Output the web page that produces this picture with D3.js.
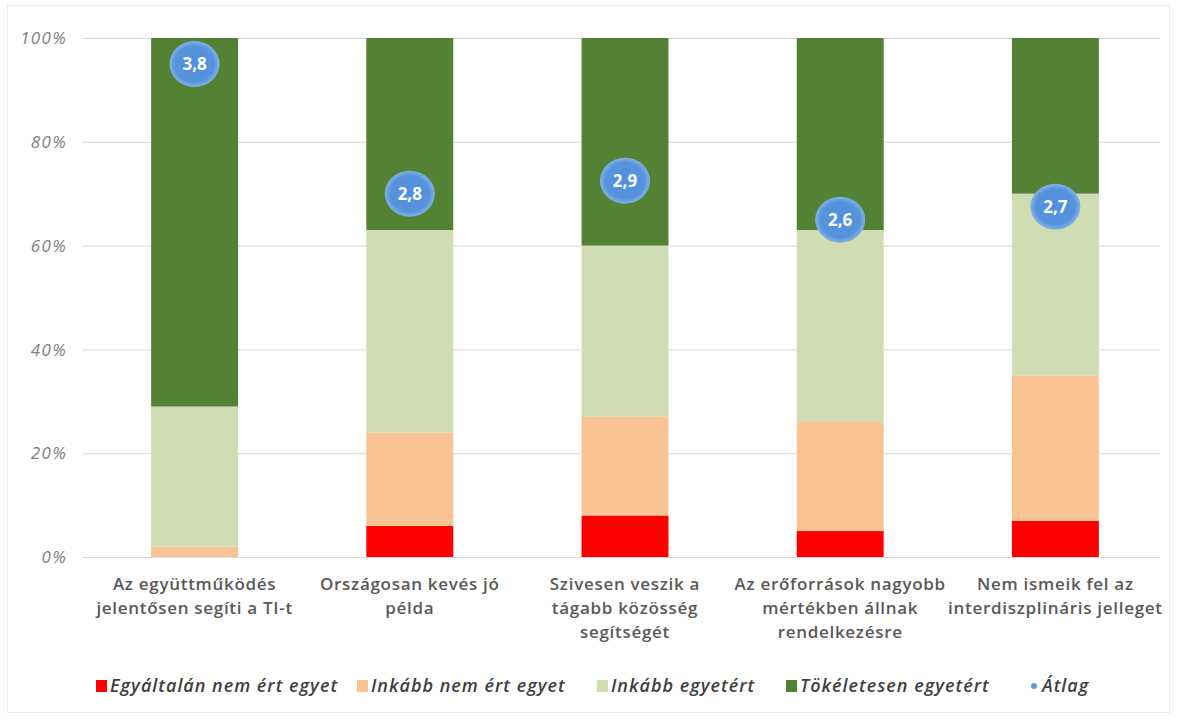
<!DOCTYPE html>
<html>
<head>
<meta charset="utf-8">
<script src="https://cdn.jsdelivr.net/npm/d3@7"></script>
<style>
  html, body { margin: 0; padding: 0; background: #fff; }
  svg { display: block; }
</style>
</head>
<body>
<svg id="chart" width="1177" height="720"></svg>
<script>
const categories = [
  "Az együttműködés jelentősen segíti a TI-t",
  "Országosan kevés jó példa",
  "Szivesen veszik a tágabb közösség segítségét",
  "Az erőforrások nagyobb mértékben állnak rendelkezésre",
  "Nem ismeik fel az interdiszplináris jelleget"
];
const categoryLines = [
  ["Az együttműködés", "jelentősen segíti a TI-t"],
  ["Országosan kevés jó", "példa"],
  ["Szivesen veszik a", "tágabb közösség", "segítségét"],
  ["Az erőforrások nagyobb", "mértékben állnak", "rendelkezésre"],
  ["Nem ismeik fel az", "interdiszplináris jelleget"]
];
const seriesNames = ["Egyáltalán nem ért egyet", "Inkább nem ért egyet", "Inkább egyetért", "Tökéletesen egyetért"];
const notAtAll   = [0, 6, 8, 5, 7];
const ratherNot  = [2, 18, 19, 21, 28];
const ratherYes  = [27, 39, 33, 37, 35];
const fully      = [71, 37, 40, 37, 30];
const averages   = [3.8, 2.8, 2.9, 2.6, 2.7];
const averageName = "Átlag";
const yTicks = [0, 0.2, 0.4, 0.6, 0.8, 1.0];

const colors = ["#ff0000", "#fac393", "#d0dcb2", "#548235"];
const avgColor = "#5b9bd5";

const svg = d3.select("#chart");

// faint outer border
svg.append("rect").attr("x", 7.5).attr("y", 5.5).attr("width", 1162).attr("height", 707)
  .attr("fill", "none").attr("stroke", "#ececec");

const x = d3.scaleBand().domain(categories).range([87, 1163]).paddingInner(0.596).paddingOuter(0.298);
const y = d3.scaleLinear().domain([0, 1]).range([557, 38]);
const y2 = d3.scaleLinear().domain([0, 4]).range([557, 38]);

// gridlines + tick labels
const yAxis = d3.axisLeft(y).tickValues(yTicks).tickSize(-(1160 - 82)).tickFormat(d3.format(".0%")).tickPadding(15);
const gAxis = svg.append("g").attr("transform", "translate(82,0)").call(yAxis);
gAxis.select(".domain").remove();
gAxis.selectAll(".tick line").attr("stroke", "#d9d9d9").attr("stroke-width", 1);
gAxis.selectAll(".tick text")
  .attr("fill", "#7f7f7f").attr("font-family", "'Open Sans', sans-serif")
  .attr("font-size", 17).attr("font-style", "italic").attr("letter-spacing", 1.3).attr("dy", "0.33em");

// stacked data
const rows = categories.map((c, i) => ({
  cat: c, s0: notAtAll[i] / 100, s1: ratherNot[i] / 100, s2: ratherYes[i] / 100, s3: fully[i] / 100
}));
const stacked = d3.stack().keys(["s0", "s1", "s2", "s3"])(rows);

svg.append("g").selectAll("g").data(stacked).join("g")
  .attr("fill", (d, i) => colors[i])
  .selectAll("rect").data(d => d).join("rect")
  .attr("x", d => x(d.data.cat))
  .attr("width", x.bandwidth())
  .attr("y", d => y(d[1]))
  .attr("height", d => Math.max(0, y(d[0]) - y(d[1])));

// average bubbles
const defs = svg.append("defs");
const grad = defs.append("radialGradient").attr("id", "bub");
grad.append("stop").attr("offset", "0%").attr("stop-color", "#4f8fe0");
grad.append("stop").attr("offset", "78%").attr("stop-color", "#5793db");
grad.append("stop").attr("offset", "100%").attr("stop-color", "#80b4e8");
const avgG = svg.append("g");
averages.forEach((v, i) => {
  const cx = x(categories[i]) + x.bandwidth() / 2;
  const cy = y2(v);
  avgG.append("ellipse").attr("cx", cx).attr("cy", cy).attr("rx", 25).attr("ry", 23)
    .attr("fill", "url(#bub)");
  avgG.append("text").attr("x", cx).attr("y", cy).attr("dy", "0.36em")
    .attr("text-anchor", "middle").attr("fill", "#fff")
    .attr("font-family", "'Open Sans', sans-serif").attr("font-weight", 700).attr("font-size", 17)
    .text(d3.format(".1f")(v).replace(".", ","));
});

// category labels
const labG = svg.append("g");
categoryLines.forEach((lines, i) => {
  const cx = x(categories[i]) + x.bandwidth() / 2;
  const t = labG.append("text").attr("text-anchor", "middle")
    .attr("fill", "#595959").attr("font-family", "'Open Sans', sans-serif")
    .attr("font-weight", 600).attr("font-size", 17).attr("letter-spacing", 0.7);
  lines.forEach((ln, j) => {
    t.append("tspan").attr("x", cx).attr("y", 590 + j * 24).text(ln);
  });
});

// legend
const legendItems = seriesNames.map((n, i) => ({ name: n, color: colors[i], type: "rect" }))
  .concat([{ name: averageName, color: avgColor, type: "dot" }]);
const legendX = [96, 357, 597, 786, 1028];
const lg = svg.append("g");
legendItems.forEach((it, i) => {
  const g = lg.append("g").attr("transform", `translate(${legendX[i]},686)`);
  if (it.type === "rect") {
    g.append("rect").attr("x", 0).attr("y", -6).attr("width", 11).attr("height", 12).attr("fill", it.color);
  } else {
    g.append("circle").attr("cx", 6).attr("cy", 0).attr("r", 3).attr("fill", it.color);
  }
  g.append("text").attr("x", 14).attr("y", 0).attr("dy", "0.35em")
    .attr("fill", "#404040").attr("font-family", "'Open Sans', sans-serif")
    .attr("font-style", "italic").attr("font-weight", 600).attr("font-size", 18).attr("letter-spacing", 1)
    .text(it.name);
});
</script>
</body>
</html>
